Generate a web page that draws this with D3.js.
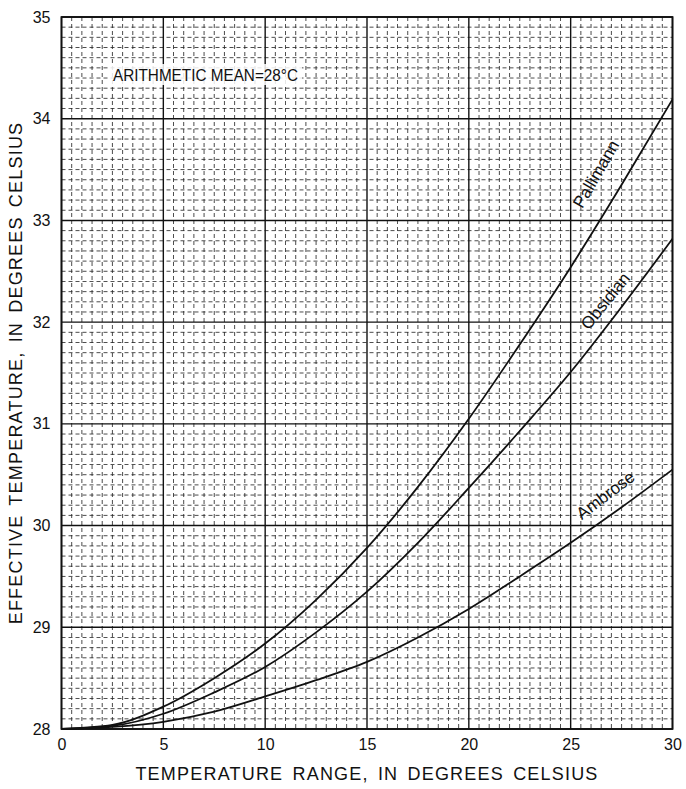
<!DOCTYPE html>
<html><head><meta charset="utf-8">
<script src="https://cdn.jsdelivr.net/npm/d3@7"></script>
<style>
html,body{margin:0;padding:0;background:#fff;}
svg{display:block;font-family:"Liberation Sans",Arial,Helvetica,sans-serif;}
</style></head>
<body><svg id="c" width="686" height="789"></svg>
<script>
const xValues = [0, 2.5, 5, 7.5, 10, 12.5, 15, 17.5, 20, 22.5, 25, 27.5, 30];
const pallimann = [28, 28.04, 28.22, 28.5, 28.84, 29.27, 29.78, 30.38, 31.05, 31.78, 32.54, 33.35, 34.19];
const obsidian  = [28, 28.03, 28.15, 28.36, 28.61, 28.95, 29.35, 29.83, 30.37, 30.93, 31.51, 32.15, 32.82];
const ambrose   = [28, 28.02, 28.07, 28.17, 28.32, 28.48, 28.66, 28.9, 29.18, 29.5, 29.83, 30.18, 30.55];
const xTicks = [0, 5, 10, 15, 20, 25, 30];
const yTicks = [28, 29, 30, 31, 32, 33, 34, 35];
const seriesNames = ["Pallimann", "Obsidian", "Ambrose"];
const labelPos = [[26.3, 33.45, -60], [26.75, 32.2, -51], [26.75, 30.29, -37]];

const svg = d3.select("#c");
const L = 61.5, R = 672.5, T = 17, B = 729;
const x = d3.scaleLinear().domain([0, 30]).range([L, R]);
const y = d3.scaleLinear().domain([28, 35]).range([B, T]);

const g = svg.append("g");
// minor grid
const xMinor = d3.range(0, 30.01, 0.5).filter(v => v % 5 !== 0);
const yMinor = d3.range(280, 351, 1).map(v => v / 10).filter(v => Math.abs(v - Math.round(v)) > 1e-6);
g.selectAll(".vx").data(xMinor).join("line")
  .attr("x1", d => x(d)).attr("x2", d => x(d)).attr("y1", T).attr("y2", B)
  .attr("stroke", "#222").attr("stroke-width", 0.9).attr("stroke-dasharray", "4,3").attr("opacity", 0.9);
g.selectAll(".hy").data(yMinor).join("line")
  .attr("y1", d => y(d)).attr("y2", d => y(d)).attr("x1", L).attr("x2", R)
  .attr("stroke", "#222").attr("stroke-width", 0.9).attr("stroke-dasharray", "4,3").attr("opacity", 0.9);
// major grid
g.selectAll(".mx").data(xTicks).join("line")
  .attr("x1", d => x(d)).attr("x2", d => x(d)).attr("y1", T).attr("y2", B)
  .attr("stroke", "#111").attr("stroke-width", 1.4);
g.selectAll(".my").data(yTicks).join("line")
  .attr("y1", d => y(d)).attr("y2", d => y(d)).attr("x1", L).attr("x2", R)
  .attr("stroke", "#111").attr("stroke-width", 1.4);
g.append("rect").attr("x", L).attr("y", T).attr("width", R - L).attr("height", B - T)
  .attr("fill", "none").attr("stroke", "#111").attr("stroke-width", 1.8);

// annotation
const ann = svg.append("g");
ann.append("rect").attr("x", 110).attr("y", 64).attr("width", 192).attr("height", 21).attr("fill", "#fff").attr("opacity", 0.85);
ann.append("text").attr("x", 113).attr("y", 81).attr("font-size", 17).attr("fill", "#111")
  .attr("textLength", 185).attr("lengthAdjust", "spacingAndGlyphs")
  .text("ARITHMETIC MEAN=28°C");

// curves
const line = d3.line().x((d, i) => x(xValues[i])).y(d => y(d)).curve(d3.curveMonotoneX);
[pallimann, obsidian, ambrose].forEach(s => {
  svg.append("path").datum(s).attr("d", line).attr("fill", "none")
    .attr("stroke", "#111").attr("stroke-width", 1.8);
});
seriesNames.forEach((n, i) => {
  const [lx, ly, a] = labelPos[i];
  svg.append("text").attr("transform", `translate(${x(lx)},${y(ly)}) rotate(${a})`)
    .attr("text-anchor", "middle").attr("dominant-baseline", "middle")
    .attr("font-size", 17).attr("fill", "#111").text(n);
});

// axes
const xa = svg.append("g").attr("transform", `translate(0,${B})`)
  .call(d3.axisBottom(x).tickValues(xTicks).tickSize(0).tickPadding(10).tickFormat(d3.format("d")));
xa.select(".domain").remove();
xa.selectAll("text").attr("font-size", 16).attr("fill", "#111").attr("font-family", "Liberation Sans, Arial, sans-serif");
const ya = svg.append("g").attr("transform", `translate(${L},0)`)
  .call(d3.axisLeft(y).tickValues(yTicks).tickSize(0).tickPadding(11).tickFormat(d3.format("d")));
ya.select(".domain").remove();
ya.selectAll("text").attr("font-size", 16).attr("fill", "#111").attr("font-family", "Liberation Sans, Arial, sans-serif");

svg.append("text").attr("x", 367).attr("y", 780).attr("text-anchor", "middle")
  .attr("font-size", 18).attr("letter-spacing", 1.2).attr("word-spacing", 3).attr("fill", "#111")
  .text("TEMPERATURE RANGE, IN DEGREES CELSIUS");
svg.append("text").attr("transform", `translate(22,${(T + B) / 2}) rotate(-90)`).attr("text-anchor", "middle")
  .attr("font-size", 18).attr("letter-spacing", 1.2).attr("word-spacing", 3).attr("fill", "#111")
  .text("EFFECTIVE TEMPERATURE, IN DEGREES CELSIUS");
</script></body></html>
